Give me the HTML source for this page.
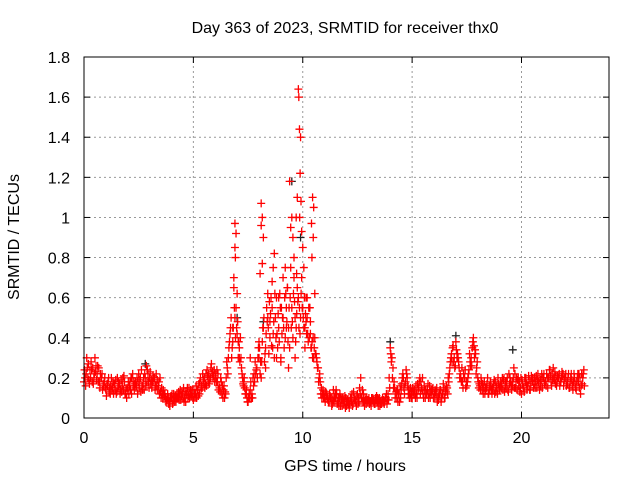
<!DOCTYPE html>
<html><head><meta charset="utf-8"><style>
body{margin:0;background:#fff}
svg{display:block;font-family:"Liberation Sans",sans-serif}
</style></head><body>
<svg id="chart" width="640" height="480">
<text x="345" y="33" font-size="16" text-anchor="middle">Day 363 of 2023, SRMTID for receiver thx0</text>
<text x="345" y="471" font-size="16" text-anchor="middle">GPS time / hours</text>
<text x="19" y="237" font-size="16" text-anchor="middle" transform="rotate(-90 19 237)">SRMTID / TECUs</text>
<g id="grid"></g><g id="axes"></g><g id="marks"></g>
<rect x="84" y="57" width="525" height="361" fill="none" stroke="#000" stroke-width="1"/>
</svg>
<script>
const xTicks=[0,5,10,15,20];
const yTicks=[0,0.2,0.4,0.6,0.8,1,1.2,1.4,1.6,1.8];
const yTickLabels=["0","0.2","0.4","0.6","0.8","1","1.2","1.4","1.6","1.8"];
const seriesA=[0.18,0.22,0.27,0.2,0.25,0.3,0.22,0.18,0.2,0.16,
0.14,0.18,0.12,0.15,0.17,0.13,0.16,0.19,0.14,0.12,
0.15,0.18,0.2,0.14,0.16,0.22,0.13,0.17,0.2,0.24,
0.2,0.15,0.18,0.22,0.16,0.13,0.1,0.12,0.09,0.08,
0.1,0.12,0.08,0.1,0.14,0.12,0.1,0.13,0.15,0.11,
0.09,0.12,0.14,0.18,0.15,0.2,0.16,0.22,0.25,0.2,
0.22,0.18,0.15,0.12,0.16,0.2,0.3,0.45,0.38,0.5,
0.42,0.35,0.25,0.18,0.12,0.08,0.14,0.1,0.18,0.25,
0.3,0.2,0.45,0.35,0.5,0.4,0.55,0.3,0.6,0.45,
0.3,0.5,0.4,0.65,0.35,0.55,0.7,0.45,0.6,0.5,
0.55,0.45,0.5,0.4,0.35,0.3,0.32,0.25,0.18,0.12,
0.1,0.12,0.08,0.1,0.14,0.1,0.08,0.12,0.06,0.08,
0.06,0.08,0.1,0.07,0.09,0.12,0.15,0.1,0.08,0.07,
0.09,0.08,0.1,0.07,0.08,0.1,0.07,0.09,0.1,0.12,
0.35,0.2,0.15,0.1,0.12,0.14,0.2,0.18,0.16,0.12,
0.1,0.14,0.12,0.15,0.18,0.12,0.1,0.14,0.16,0.12,
0.1,0.12,0.09,0.14,0.12,0.1,0.15,0.22,0.32,0.28,
0.38,0.3,0.22,0.18,0.2,0.16,0.24,0.3,0.4,0.32,
0.2,0.16,0.14,0.18,0.15,0.12,0.16,0.14,0.18,0.12,
0.14,0.17,0.2,0.15,0.13,0.18,0.16,0.22,0.14,0.18,
0.12,0.15,0.2,0.16,0.14,0.18,0.2,0.15,0.17,0.19,
0.2,0.18,0.15,0.24,0.22,0.19,0.16,0.2,0.18,0.22,
0.2,0.17,0.15,0.19,0.22,0.14,0.18,0.12,0.2];
const seriesB=[0.2,0.25,0.17,0.24,0.2,0.26,0.18,0.22,0.14,0.2,
0.17,0.13,0.2,0.12,0.19,0.15,0.12,0.16,0.18,0.1,
0.12,0.2,0.16,0.18,0.12,0.19,0.16,0.14,0.26,0.18,
0.17,0.21,0.14,0.19,0.12,0.15,0.12,0.08,0.1,0.1,
0.07,0.1,0.12,0.09,0.11,0.15,0.08,0.1,0.12,0.14,
0.12,0.1,0.17,0.14,0.19,0.17,0.21,0.19,0.22,0.24,
0.18,0.14,0.2,0.1,0.13,0.25,0.38,0.3,0.65,0.55,
0.3,0.4,0.2,0.15,0.1,0.12,0.1,0.16,0.22,0.3,
0.22,0.38,0.28,0.55,0.32,0.6,0.42,0.5,0.35,0.62,
0.42,0.35,0.55,0.45,0.75,0.4,0.5,0.65,0.55,0.7,
0.45,0.6,0.38,0.48,0.3,0.4,0.28,0.2,0.15,0.1,
0.13,0.09,0.11,0.07,0.1,0.12,0.06,0.1,0.09,0.05,
0.09,0.07,0.12,0.1,0.06,0.1,0.2,0.08,0.1,0.09,
0.07,0.1,0.08,0.09,0.06,0.08,0.1,0.08,0.07,0.2,
0.28,0.15,0.12,0.08,0.16,0.2,0.12,0.22,0.14,0.1,
0.13,0.1,0.17,0.2,0.14,0.16,0.12,0.1,0.13,0.15,
0.14,0.08,0.12,0.1,0.15,0.13,0.2,0.28,0.35,0.25,
0.3,0.25,0.18,0.22,0.15,0.2,0.28,0.35,0.3,0.25,
0.15,0.2,0.12,0.15,0.2,0.14,0.12,0.19,0.15,0.17,
0.18,0.14,0.16,0.2,0.17,0.14,0.25,0.18,0.2,0.15,
0.17,0.2,0.14,0.19,0.21,0.15,0.18,0.22,0.2,0.15,
0.17,0.22,0.2,0.18,0.25,0.17,0.21,0.16,0.23,0.19,
0.16,0.22,0.2,0.14,0.17,0.2,0.15,0.22,0.24];
const seriesC=[0.24,0.3,0.19,0.28,0.17,0.23,0.26,0.15,0.22,0.18,
0.11,0.2,0.16,0.18,0.14,0.2,0.17,0.13,0.21,0.15,
0.18,0.14,0.22,0.17,0.2,0.15,0.24,0.2,0.16,0.22,
0.23,0.18,0.2,0.16,0.18,0.1,0.14,0.1,0.12,0.06,
0.12,0.08,0.1,0.13,0.09,0.1,0.13,0.15,0.1,0.12,
0.14,0.16,0.11,0.2,0.22,0.15,0.24,0.17,0.27,0.21,
0.2,0.22,0.13,0.16,0.1,0.28,0.35,0.5,0.45,0.4,
0.48,0.28,0.22,0.2,0.14,0.1,0.18,0.2,0.28,0.2,
0.35,0.28,0.5,0.42,0.45,0.52,0.35,0.62,0.42,0.38,
0.55,0.45,0.62,0.38,0.6,0.48,0.58,0.52,0.45,0.62,
0.5,0.52,0.42,0.55,0.38,0.35,0.3,0.18,0.12,0.14,
0.08,0.1,0.12,0.06,0.08,0.14,0.1,0.06,0.1,0.11,
0.08,0.05,0.08,0.13,0.08,0.07,0.12,0.14,0.06,0.1,
0.1,0.06,0.09,0.1,0.1,0.06,0.09,0.07,0.12,0.09,
0.32,0.25,0.1,0.14,0.08,0.17,0.15,0.24,0.12,0.15,
0.15,0.12,0.1,0.18,0.15,0.1,0.14,0.17,0.1,0.14,
0.12,0.15,0.11,0.08,0.17,0.14,0.12,0.25,0.28,0.3,
0.34,0.28,0.2,0.15,0.24,0.18,0.32,0.26,0.36,0.22,
0.18,0.14,0.17,0.12,0.17,0.16,0.14,0.17,0.13,0.2,
0.16,0.2,0.13,0.18,0.22,0.16,0.2,0.15,0.19,0.13,
0.19,0.13,0.17,0.21,0.18,0.2,0.15,0.19,0.14,0.22,
0.22,0.16,0.2,0.21,0.19,0.23,0.18,0.22,0.2,0.16,
0.22,0.2,0.18,0.16,0.2,0.18,0.22,0.16,0.22];
const seriesD=[0.16,0.2,0.24,0.18,0.22,0.19,0.25,0.2,0.17,0.15,
0.16,0.15,0.14,0.17,0.12,0.18,0.14,0.2,0.12,0.14,
0.16,0.12,0.18,0.15,0.18,0.2,0.14,0.22,0.18,0.15,
0.19,0.2,0.16,0.14,0.2,0.12,0.11,0.09,0.07,0.11,
0.09,0.11,0.1,0.12,0.13,0.08,0.12,0.11,0.14,0.1,
0.1,0.14,0.12,0.16,0.17,0.22,0.18,0.2,0.23,0.18,
0.24,0.16,0.18,0.14,0.12,0.22,0.42,0.35,0.55,0.45,
0.38,0.3,0.17,0.12,0.08,0.1,0.12,0.22,0.24,0.35,
0.28,0.45,0.32,0.48,0.58,0.36,0.48,0.4,0.52,0.55,
0.5,0.6,0.48,0.55,0.45,0.62,0.38,0.58,0.42,0.55,
0.6,0.42,0.55,0.35,0.4,0.32,0.25,0.22,0.1,0.12,
0.11,0.08,0.1,0.09,0.12,0.07,0.1,0.09,0.07,0.1,
0.07,0.1,0.06,0.09,0.11,0.08,0.1,0.12,0.09,0.08,
0.08,0.09,0.07,0.11,0.09,0.07,0.08,0.1,0.09,0.15,
0.3,0.18,0.13,0.12,0.1,0.22,0.17,0.2,0.1,0.13,
0.12,0.16,0.14,0.12,0.2,0.14,0.12,0.12,0.14,0.1,
0.13,0.1,0.14,0.12,0.1,0.16,0.18,0.3,0.36,0.26,
0.32,0.2,0.25,0.2,0.18,0.22,0.26,0.38,0.34,0.28,
0.17,0.18,0.15,0.14,0.12,0.18,0.15,0.12,0.16,0.15,
0.15,0.19,0.18,0.14,0.2,0.18,0.15,0.2,0.16,0.2,
0.15,0.18,0.16,0.14,0.2,0.17,0.21,0.18,0.16,0.2,
0.18,0.2,0.24,0.16,0.2,0.21,0.2,0.18,0.21,0.2,
0.18,0.15,0.22,0.18,0.15,0.22,0.2,0.17,0.16];
const spikeT=[6.9,6.95,6.92,7.0,6.85,6.9,8.1,8.15,8.1,8.2,8.15,8.05,8.6,8.65,8.7,9.4,9.5,9.55,9.6,9.45,9.8,9.82,9.85,9.9,9.88,9.92,9.86,9.95,9.75,9.7,10.0,10.05,10.45,10.5,10.4,10.48,10.42,8.9,9.1,9.3,9.2,10.2,10.3,
6.8,7.05,7.1,8.3,8.4,8.5,8.8,9.0,9.25,9.35,9.65,9.72,10.1,10.15,10.35,10.55,7.3,7.6,8.0];
const spikeV=[0.97,0.92,0.8,0.62,0.7,0.85,1.07,1.0,0.96,0.9,0.77,0.72,0.68,0.75,0.82,1.18,1.0,0.9,0.8,0.95,1.64,1.6,1.44,1.4,1.22,1.08,1.0,0.93,1.1,1.0,0.85,0.75,1.1,1.05,0.97,0.9,0.8,0.6,0.7,0.65,0.75,0.6,0.55,
0.45,0.38,0.3,0.25,0.62,0.48,0.3,0.28,0.45,0.25,0.3,0.72,0.35,0.48,0.42,0.62,0.16,0.3,0.38];
const blackT=[9.5,14.0,17.0,19.6,8.2,7.0,2.8,9.9];
const blackV=[1.18,0.38,0.41,0.34,0.48,0.5,0.27,0.9];

const NS="http://www.w3.org/2000/svg";
const X0=84,X1=609,Y0=418,Y1=57,XMAX=24,YMAX=1.8;
function xs(t){return X0+(X1-X0)*t/XMAX;}
function ys(v){return Y0-(Y0-Y1)*v/YMAX;}
function mk(tag,attrs,parent){const e=document.createElementNS(NS,tag);for(const k in attrs)e.setAttribute(k,attrs[k]);parent.appendChild(e);return e;}
const grid=document.getElementById('grid'),axes=document.getElementById('axes'),marks=document.getElementById('marks');
xTicks.forEach(t=>{
  const x=xs(t);
  if(t>0){const g=mk('line',{x1:x,x2:x,y1:Y0,y2:Y1,stroke:'#999','stroke-dasharray':'2,3'},grid);
  
  }
  mk('line',{x1:x,x2:x,y1:Y0,y2:Y0-6,stroke:'#000'},axes);
  mk('line',{x1:x,x2:x,y1:Y1,y2:Y1+6,stroke:'#000'},axes);
  const lb=mk('text',{x:x,y:Y0+25,'font-size':16,'text-anchor':'middle'},axes);
  lb.textContent=t;
  
  
});
yTicks.forEach((v,i)=>{
  const y=ys(v);
  if(v>0&&v<YMAX){const g=mk('line',{x1:X0,x2:X1,y1:y,y2:y,stroke:'#999','stroke-dasharray':'2,3'},grid);
  
  }
  mk('line',{x1:X0,x2:X0+6,y1:y,y2:y,stroke:'#000'},axes);
  mk('line',{x1:X1,x2:X1-6,y1:y,y2:y,stroke:'#000'},axes);
  const lb=mk('text',{x:X0-14,y:y+6,'font-size':16,'text-anchor':'end'},axes);
  lb.textContent=yTickLabels[i];
  
  
});
function plus(t,v,color,name){
  const x=xs(t),y=ys(v);
  const p=mk('path',{d:`M${x-4},${y}H${x+4}M${x},${y-4}V${y+4}`,stroke:color,'stroke-width':1.3,fill:'none'},marks);
  
  
}
blackT.forEach((t,i)=>plus(t,blackV[i],'#222','black-point'));
seriesA.forEach((v,i)=>plus(i*0.1,v,'#f00','srmtid-point'));
seriesB.forEach((v,i)=>plus(i*0.1+0.05,v,'#f00','srmtid-point'));
seriesC.forEach((v,i)=>plus(i*0.1+0.025,v,'#f00','srmtid-point'));
seriesD.forEach((v,i)=>plus(i*0.1+0.075,v,'#f00','srmtid-point'));
spikeT.forEach((t,i)=>plus(t,spikeV[i],'#f00','srmtid-spike-point'));
</script>
</body></html>
